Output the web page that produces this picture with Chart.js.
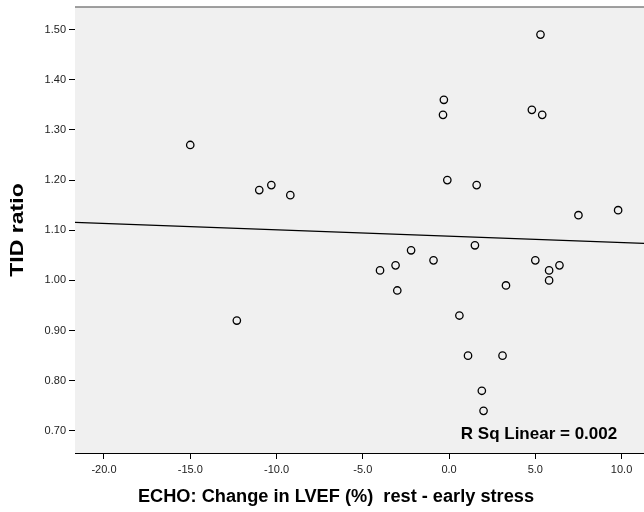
<!DOCTYPE html>
<html>
<head>
<meta charset="utf-8">
<script src="https://cdn.jsdelivr.net/npm/chart.js@4/dist/chart.umd.min.js"></script>
<style>
  html, body { margin: 0; padding: 0; background: #fff; }
  #wrap { width: 644px; height: 512px; position: relative; }
</style>
</head>
<body>
<div id="wrap"><canvas id="scatter"></canvas></div>
<script>
// change in LVEF (x) vs TID ratio (y)
const lvefChange = [-15.0, -12.3, -11.0, -10.3, -9.2, -0.3, -0.35, 4.8, 5.4, -0.1,
    1.6, 7.5, 9.8, 5.3, -4.0, -3.1, -2.2, -0.9, 1.5, -3.0,
    5.0, 5.8, 6.4, 5.8, 3.3, 0.6, 1.1, 3.1, 1.9, 2.0];
const tidRatio = [1.27, 0.92, 1.18, 1.19, 1.17, 1.36, 1.33, 1.34, 1.33, 1.20,
    1.19, 1.13, 1.14, 1.49, 1.02, 1.03, 1.06, 1.04, 1.07, 0.98,
    1.04, 1.02, 1.03, 1.00, 0.99, 0.93, 0.85, 0.85, 0.78, 0.74];

// fit line ends (at the edges of the plot)
const fitX = [-21.68, 11.3];
const fitY = [1.1156, 1.074];

const xTicks = [-20, -15, -10, -5, 0, 5, 10];
const yTicks = [0.7, 0.8, 0.9, 1.0, 1.1, 1.2, 1.3, 1.4, 1.5];

const xTitle = 'ECHO: Change in LVEF (%)  rest - early stress';
const yTitle = 'TID ratio';
const rsqLabel = 'R Sq Linear = 0.002';

const FONT = '"Liberation Sans", Arial, sans-serif';

const points = lvefChange.map((x, i) => ({ x: x, y: tidRatio[i] }));
const fitLine = fitX.map((x, i) => ({ x: x, y: fitY[i] }));

const plotDecor = {
    id: 'plotDecor',
    beforeDatasetsDraw(chart) {
        const a = chart.chartArea;
        const ctx = chart.ctx;
        ctx.save();
        ctx.fillStyle = '#f0f0f0';
        ctx.fillRect(a.left, a.top, a.right - a.left, a.bottom - a.top);
        ctx.strokeStyle = '#808080';
        ctx.lineWidth = 1.5;
        ctx.beginPath();
        ctx.moveTo(a.left, a.top);
        ctx.lineTo(a.right, a.top);
        ctx.stroke();
        ctx.restore();
    },
    afterDraw(chart) {
        const ctx = chart.ctx;
        ctx.save();
        ctx.fillStyle = '#000';
        ctx.textAlign = 'center';
        ctx.textBaseline = 'middle';
        ctx.font = 'bold 17px ' + FONT;
        ctx.fillText(rsqLabel, 539, 434);
        ctx.restore();

        // the titles in the picture are a bit wider than the font, stretch them
        ctx.save();
        ctx.fillStyle = '#000';
        ctx.textAlign = 'center';
        ctx.textBaseline = 'middle';
        ctx.translate(336, 497);
        ctx.scale(1.04, 1);
        ctx.font = 'bold 17.5px ' + FONT;
        ctx.fillText(xTitle, 0, 0);
        ctx.restore();

        ctx.save();
        ctx.fillStyle = '#000';
        ctx.textAlign = 'center';
        ctx.textBaseline = 'middle';
        ctx.translate(18.5, 230);
        ctx.rotate(-Math.PI / 2);
        ctx.scale(1.28, 1);
        ctx.font = 'bold 18px ' + FONT;
        ctx.fillText(yTitle, 0, 0);
        ctx.restore();
    }
};

new Chart(document.getElementById('scatter').getContext('2d'), {
    type: 'scatter',
    data: {
        datasets: [{
            data: points,
            pointStyle: 'circle',
            pointRadius: 3.7,
            pointHoverRadius: 3.7,
            borderColor: '#000',
            backgroundColor: 'rgba(0,0,0,0)',
            pointBorderWidth: 1.3
        }, {
            type: 'line',
            data: fitLine,
            borderColor: '#000',
            borderWidth: 1.3,
            pointRadius: 0,
            fill: false
        }]
    },
    options: {
        responsive: true,
        maintainAspectRatio: false,
        animation: false,
        events: [],
        layout: { autoPadding: false, padding: { top: 7, right: 0, left: 0, bottom: 0 } },
        plugins: { legend: { display: false }, tooltip: { enabled: false } },
        scales: {
            x: {
                type: 'linear',
                min: fitX[0],
                max: fitX[1],
                afterBuildTicks: s => { s.ticks = xTicks.map(v => ({ value: v })); },
                afterFit: s => { s.height = 59; s.paddingLeft = 0; s.paddingRight = 0; },
                grid: { drawOnChartArea: false, drawTicks: true, tickLength: 6, tickColor: '#000', tickWidth: 1 },
                border: { display: true, color: '#000', width: 1 },
                ticks: {
                    callback: v => v.toFixed(1),
                    color: '#222',
                    padding: 4,
                    maxRotation: 0,
                    autoSkip: false,
                    font: { family: FONT, size: 11 }
                }
            },
            y: {
                type: 'linear',
                min: 0.656,
                max: 1.545,
                afterBuildTicks: s => { s.ticks = yTicks.map(v => ({ value: v })); },
                afterFit: s => { s.width = 75; s.paddingTop = 0; s.paddingBottom = 0; },
                grid: { drawOnChartArea: false, drawTicks: true, tickLength: 6, tickColor: '#000', tickWidth: 1 },
                border: { display: true, color: '#000', width: 1 },
                ticks: {
                    callback: v => v.toFixed(2),
                    color: '#222',
                    padding: 3,
                    autoSkip: false,
                    font: { family: FONT, size: 11 }
                }
            }
        }
    },
    plugins: [plotDecor]
});
</script>
</body>
</html>
